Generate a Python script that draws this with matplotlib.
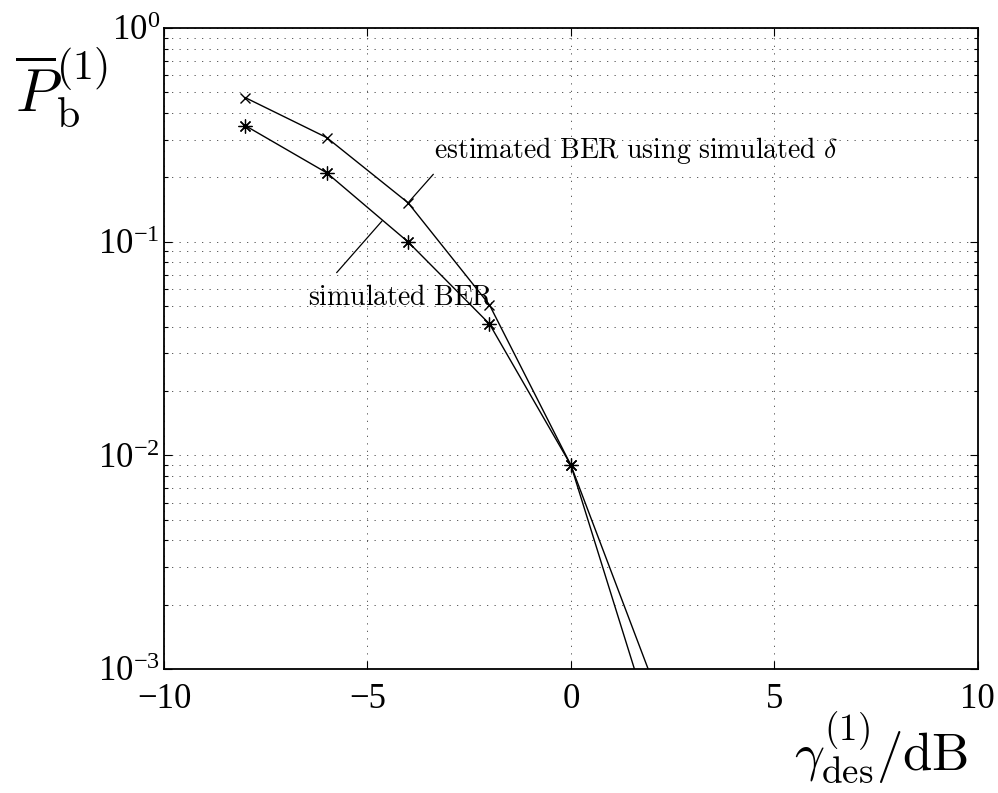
import numpy as np
import matplotlib
matplotlib.use("Agg")
import matplotlib.pyplot as plt
from matplotlib.ticker import LogLocator, FixedLocator, NullFormatter, FuncFormatter

# SNR target (dB) and BER curves
snr_db = [-8, -6, -4, -2, 0, 2]
ber_estimated = [0.472, 0.307, 0.152, 0.0506, 0.0090, 8.9e-4]
ber_simulated = [0.349, 0.210, 0.0997, 0.0412, 0.0090, 5.4e-4]

x_ticks = [-10, -5, 0, 5, 10]
y_ticks = [1e-3, 1e-2, 1e-1, 1e0]

plt.rcParams["font.family"] = ["Liberation Serif", "DejaVu Serif"]
plt.rcParams["mathtext.fontset"] = "stix"

fig = plt.figure(figsize=(9.98, 7.93), dpi=100)
ax = fig.add_axes([0.1643, 0.1564, 0.8154, 0.8083])

ax.plot(snr_db, ber_estimated, color="black", lw=1.0, marker="x",
        markersize=7, markeredgewidth=1.0)
ax.plot(snr_db, ber_simulated, color="black", lw=1.0, marker=(8, 2, 0),
        markersize=10, markeredgewidth=0.9)

ax.set_yscale("log")
ax.set_xlim(-10, 10)
ax.set_ylim(1e-3, 1)
ax.xaxis.set_major_locator(FixedLocator(x_ticks))
ax.yaxis.set_major_locator(FixedLocator(y_ticks))
ax.yaxis.set_minor_locator(LogLocator(base=10, subs=np.arange(2, 10)))
ax.yaxis.set_minor_formatter(NullFormatter())
ax.xaxis.set_major_formatter(FuncFormatter(lambda v, p: f"{int(v)}".replace("-", "\u2212")))
ax.yaxis.set_major_formatter(FuncFormatter(
    lambda v, p: r"$\mathregular{10^{%d}}$" % int(round(np.log10(v)))))

ax.tick_params(which="both", direction="in", top=True, right=True,
               labelsize=25, width=0.8)
ax.tick_params(which="major", length=6)
ax.tick_params(which="minor", length=3)
ax.tick_params(axis="x", pad=10)
ax.tick_params(axis="y", pad=3)
for s in ax.spines.values():
    s.set_linewidth(1.3)

grid_style = dict(color="0.25", linewidth=0.6, linestyle=(0, (1.5, 7.5)))
ax.grid(True, which="major", axis="both", **grid_style)
ax.grid(True, which="minor", axis="y", **grid_style)

# curve annotations
ax.annotate("", xy=(-4.0, 0.152), xytext=(-3.38, 0.2067),
            arrowprops=dict(arrowstyle="-", color="black", lw=0.9,
                            shrinkA=0, shrinkB=0))
ax.annotate("", xy=(-4.64, 0.125), xytext=(-5.756, 0.0716),
            arrowprops=dict(arrowstyle="-", color="black", lw=0.9,
                            shrinkA=0, shrinkB=0))
ax.text(-3.37, 0.2657, r"$\mathrm{estimated\ BER\ using\ simulated}\ \delta$",
        fontsize=20, va="center", ha="left", math_fontfamily="cm")
ax.text(-6.46, 0.0545, r"$\mathrm{simulated\ BER}$",
        fontsize=20, va="center", ha="left", math_fontfamily="cm")

fig.text(15 / 998, 1 - 112 / 793, r"$\overline{P}_{\mathrm{b}}^{(1)}$",
         fontsize=43, ha="left", va="baseline", math_fontfamily="cm")
fig.text(968 / 998, 1 - 770 / 793, r"$\gamma_{\mathrm{des}}^{(1)}/\mathrm{dB}$",
         fontsize=38, ha="right", va="baseline", math_fontfamily="cm")

fig.savefig("out.png", dpi=100)
